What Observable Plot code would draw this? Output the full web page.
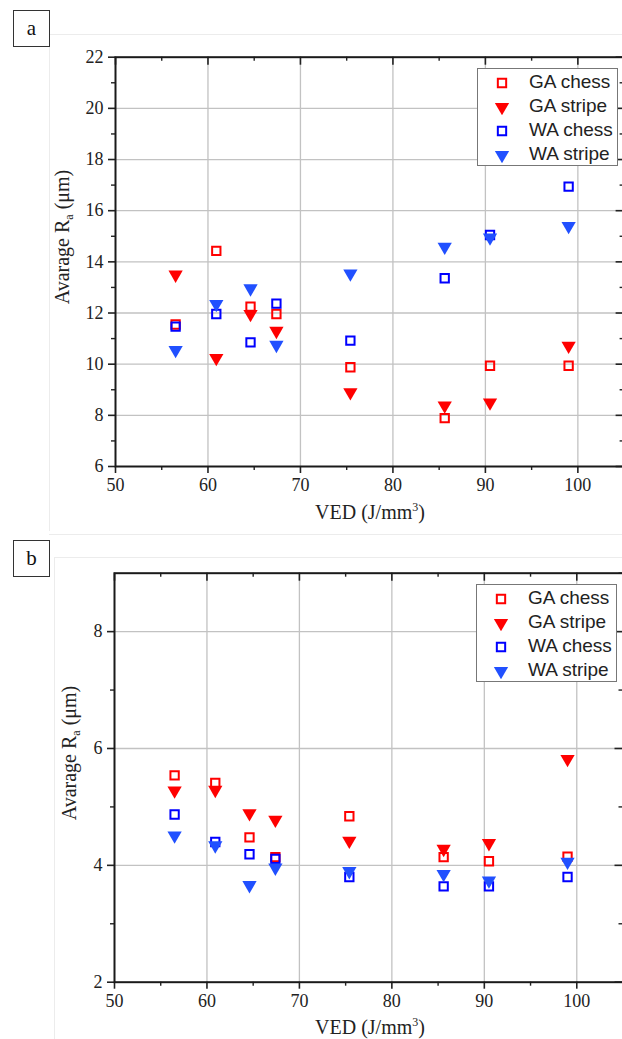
<!DOCTYPE html>
<html><head><meta charset="utf-8">
<script src="https://cdn.jsdelivr.net/npm/d3@7"></script>
<script src="https://cdn.jsdelivr.net/npm/@observablehq/plot@0.6"></script>
<style>
body{margin:0;background:#fff;}
#page{position:relative;width:622px;height:1039px;overflow:hidden;background:#fff;}
.hl{position:absolute;height:1px;background:#ececec;}
.vl{position:absolute;width:1px;background:#ececec;}
.plab{position:absolute;box-sizing:border-box;border:1px solid #333;width:37px;height:37px;font:21px "Liberation Serif";text-align:center;line-height:34px;background:#fff;color:#111;}
.ytitle{position:absolute;font:20px "Liberation Serif";white-space:nowrap;color:#222;transform:translate(-50%,-50%) rotate(-90deg);}
.xtitle{position:absolute;font:20px "Liberation Serif";white-space:nowrap;color:#222;transform:translate(-50%,-50%);}
.ytitle sub{font-size:12px;vertical-align:-4px;}
.xtitle sup{font-size:12px;vertical-align:8px;}
.legend{position:absolute;box-sizing:border-box;border:1px solid #777;background:#fff;font:19px "Liberation Sans";color:#222;width:141px;height:98px;padding-top:1px;}
.row{position:relative;height:24px;line-height:24px;}
.row svg{position:absolute;left:16px;top:5px;}
.row span{position:absolute;left:51px;top:0;}
.svgwrap{position:absolute;left:0;width:640px;}
.svgwrap svg text{font-family:"Liberation Serif";}
</style>
</head><body>
<div id="page">
  <div class="hl" style="left:49px;top:34px;width:580px"></div>
  <div class="vl" style="left:49px;top:34px;height:497px"></div>
  <div class="hl" style="left:49px;top:534px;width:580px"></div>
  <div class="hl" style="left:54px;top:557px;width:580px"></div>
  <div class="vl" style="left:54px;top:557px;height:490px"></div>
  <div id="wa" class="svgwrap" style="top:0"></div>
  <div id="wb" class="svgwrap" style="top:530px"></div>
  <div class="plab" style="left:13px;top:10px">a</div>
  <div class="plab" style="left:13px;top:540px">b</div>
  <div class="ytitle" style="left:64px;top:237px">Avarage R<sub>a</sub> (μm)</div>
  <div class="ytitle" style="left:71px;top:753px">Avarage R<sub>a</sub> (μm)</div>
  <div class="xtitle" style="left:370px;top:512px">VED (J/mm<sup>3</sup>)</div>
  <div class="xtitle" style="left:370px;top:1027px">VED (J/mm<sup>3</sup>)</div>
  <div id="la" class="legend" style="left:477px;top:68px"></div>
  <div id="lb" class="legend" style="left:476px;top:584px"></div>
</div>
<script>
// ---- data ----
const ved = [56.5, 60.9, 64.6, 67.4, 75.4, 85.6, 90.5, 99.0];
const seriesNames = ["GA chess", "GA stripe", "WA chess", "WA stripe"];
// panel a
const aGAchess  = [11.55, 14.43, 12.25, 11.96, 9.88, 7.89, 9.94, 9.94];
const aGAstripe = [13.50, 10.24, 11.96, 11.30, 8.90, 8.38, 8.50, 10.72];
const aWAchess  = [11.47, 11.96, 10.85, 12.37, 10.92, 13.36, 15.05, 16.94];
const aWAstripe = [10.55, 12.35, 12.96, 10.75, 13.54, 14.59, 14.95, 15.40];
// panel b
const bGAchess  = [5.54, 5.41, 4.48, 4.14, 4.84, 4.14, 4.07, 4.15];
const bGAstripe = [5.28, 5.29, 4.89, 4.78, 4.42, 4.28, 4.38, 5.82];
const bWAchess  = [4.87, 4.40, 4.19, 4.11, 3.80, 3.64, 3.64, 3.80];
const bWAstripe = [4.51, 4.34, 3.66, 3.96, 3.90, 3.85, 3.74, 4.06];
// ticks
const xMajor = [50, 60, 70, 80, 90, 100];
const xMinor = [55, 65, 75, 85, 95, 105];
const xGrid = [60, 70, 80, 90, 100];
const aYMajor = [6, 8, 10, 12, 14, 16, 18, 20, 22];
const aYMinor = [7, 9, 11, 13, 15, 17, 19, 21];
const bYMajor = [2, 4, 6, 8];
const bYMinor = [3, 5, 7, 9];

const sty = {
  "GA chess":  {symbol: "square", stroke: "#ff0000", fill: "none", r: 4.7, strokeWidth: 2},
  "GA stripe": {symbol: "triangle", fill: "#ff0000", stroke: "none", r: 5.3, rotate: 180},
  "WA chess":  {symbol: "square", stroke: "#0000ff", fill: "none", r: 4.7, strokeWidth: 2},
  "WA stripe": {symbol: "triangle", fill: "#2150ff", stroke: "none", r: 5.3, rotate: 180}
};

function rows(arrs) {
  const out = [];
  seriesNames.forEach((s, k) => ved.forEach((v, i) => out.push({series: s, ved: v, ra: arrs[k][i]})));
  return out;
}

function panel(data, yDomain, yMajor, yMinor, H, mT, mB, mL, mR) {
  const W = 640;
  const pw = W - mL - mR, ph = H - mT - mB;
  const txt = {fontSize: 18, fontFamily: "Liberation Serif", tickFormat: d => String(d)};
  return Plot.plot({
    width: W, height: H,
    marginTop: mT, marginBottom: mB, marginLeft: mL, marginRight: mR,
    style: {background: "transparent", color: "#222", maxWidth: "none", overflow: "visible", fontFamily: "Liberation Serif"},
    x: {domain: [50, 105]},
    y: {domain: yDomain},
    marks: [
      Plot.gridX(xGrid, {stroke: "#c2c2c2", strokeOpacity: 1, strokeWidth: 1.3}),
      Plot.gridY(yMajor.filter(d => d > yDomain[0] && d < yDomain[1]),
        {stroke: "#c2c2c2", strokeOpacity: 1, strokeWidth: 1.3}),
      ...seriesNames.map(s => Plot.dot(data.filter(d => d.series === s), {x: "ved", y: "ra", ...sty[s]})),
      Plot.axisX(xMajor, {tickSize: 7, tickPadding: 5, label: null, strokeWidth: 1.6, ...txt}),
      Plot.axisX(xMinor.filter(d => d < 105), {tickSize: 4, tickFormat: () => "", label: null, strokeWidth: 1.4}),
      Plot.axisY(yMajor, {tickSize: 7, tickPadding: 5, label: null, strokeWidth: 1.6, ...txt}),
      Plot.axisY(yMinor.filter(d => d < yDomain[1]), {tickSize: 4, tickFormat: () => "", label: null, strokeWidth: 1.4}),
      Plot.tickX(xMajor, {x: d => d, insetBottom: ph - 8, strokeWidth: 1.6, stroke: "#222"}),
      Plot.tickX(xMinor, {x: d => d, insetBottom: ph - 4, strokeWidth: 1.4, stroke: "#222"}),
      Plot.tickY(yMajor, {y: d => d, insetLeft: pw - 8, strokeWidth: 1.6, stroke: "#222"}),
      Plot.tickY(yMinor, {y: d => d, insetLeft: pw - 4, strokeWidth: 1.4, stroke: "#222"}),
      Plot.frame({stroke: "#1a1a1a", strokeWidth: 2})
    ]
  });
}

document.getElementById("wa").append(
  panel(rows([aGAchess, aGAstripe, aWAchess, aWAstripe]), [6, 22], aYMajor, aYMinor, 530, 56.7, 64, 115, 16.4));
document.getElementById("wb").append(
  panel(rows([bGAchess, bGAstripe, bWAchess, bWAstripe]), [2, 9], bYMajor, bYMinor, 509, 42.7, 57.3, 114, 17.5));

// legends
function legend(id) {
  const el = document.getElementById(id);
  seriesNames.forEach(s => {
    const row = document.createElement("div");
    row.className = "row";
    const st = sty[s];
    const sym = d3.symbol(st.symbol === "square" ? d3.symbolSquare : d3.symbolTriangle, Math.PI * st.r * st.r)();
    row.innerHTML = `<svg width="16" height="16" viewBox="-8 -8 16 16"><path d="${sym}" transform="rotate(${st.rotate || 0})" fill="${st.fill}" stroke="${st.stroke}" stroke-width="${st.strokeWidth || 0}"/></svg><span></span>`;
    row.querySelector("span").textContent = s;
    el.append(row);
  });
}
legend("la");
legend("lb");
</script>
</body></html>
